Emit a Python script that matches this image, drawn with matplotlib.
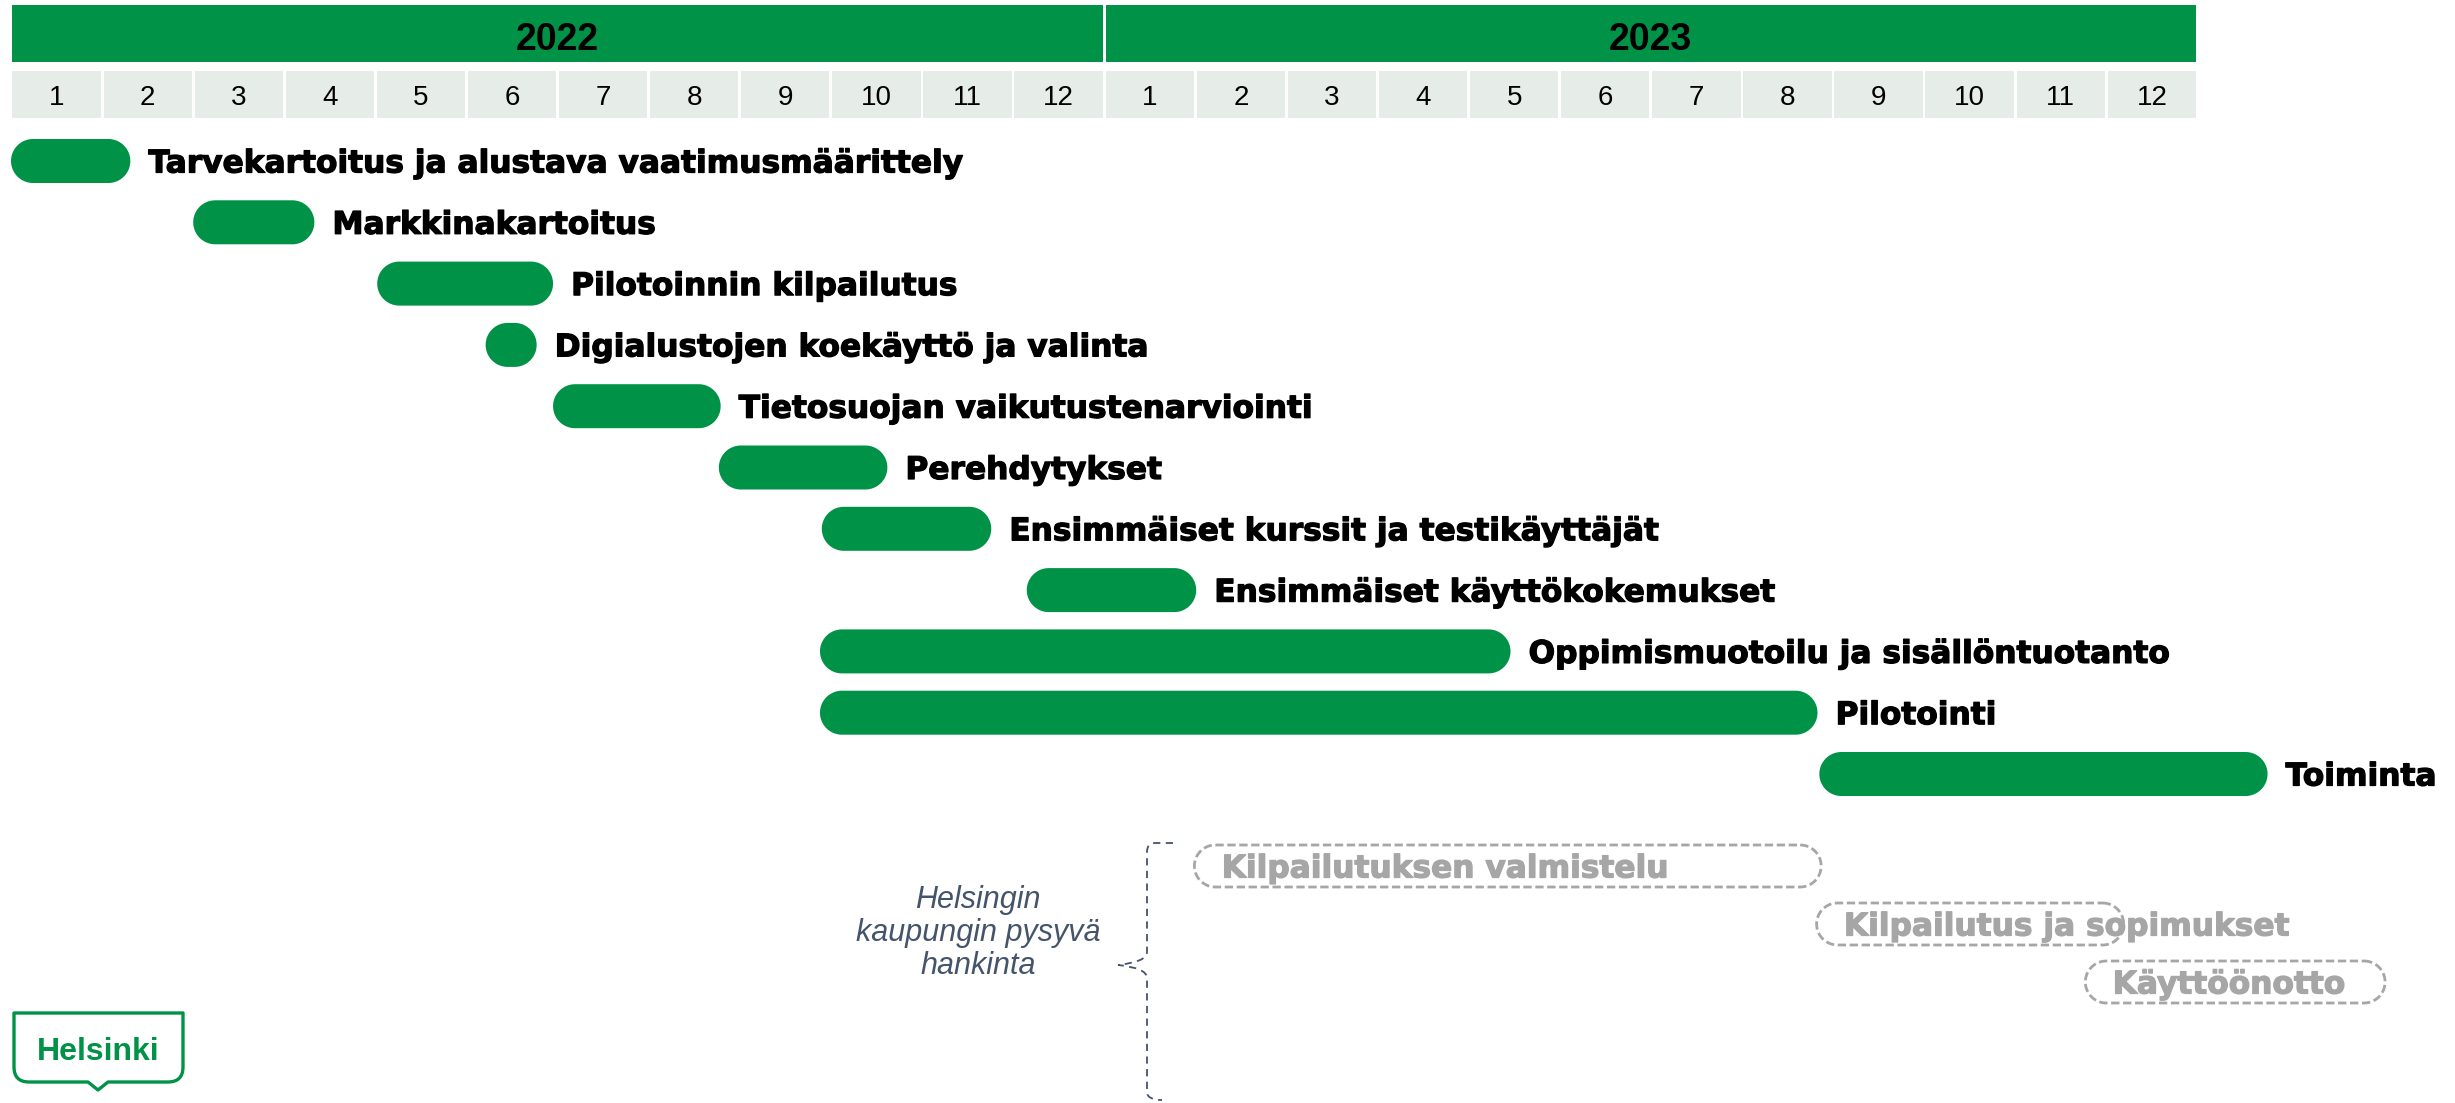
import numpy as np
import matplotlib
matplotlib.use("Agg")
import matplotlib.pyplot as plt
from matplotlib.patches import Rectangle, PathPatch
from matplotlib.path import Path
import matplotlib.patheffects as pe

# Aikajana: x-akselilla kuukaudet, 0 = tammikuun 2022 alku
years = ["2022", "2023"]
months = [str(m) for m in range(1, 13)] * 2

tasks = ["Tarvekartoitus ja alustava vaatimusmäärittely", "Markkinakartoitus",
         "Pilotoinnin kilpailutus", "Digialustojen koekäyttö ja valinta",
         "Tietosuojan vaikutustenarviointi", "Perehdytykset",
         "Ensimmäiset kurssit ja testikäyttäjät", "Ensimmäiset käyttökokemukset",
         "Oppimismuotoilu ja sisällöntuotanto", "Pilotointi", "Toiminta"]
task_start = [0.0, 2.0, 4.02, 5.21, 5.95, 7.77, 8.9, 11.15, 8.88, 8.88, 19.85]
task_end = [1.31, 3.33, 5.95, 5.77, 7.79, 9.62, 10.76, 13.01, 16.46, 19.83, 24.77]

proc = ["Kilpailutuksen valmistelu", "Kilpailutus ja sopimukset", "Käyttöönotto"]
proc_start = [12.99, 19.82, 22.77]
proc_end = [19.87, 23.19, 26.06]
proc_note = "Helsingin\nkaupungin pysyvä\nhankinta"

GREEN = "#009246"
CELL = "#e6ece8"
GREY = "#a6a6a6"
SLATE = "#44546a"

W, H = 2455, 1103
PPM = 91.1            # pikseliä / kuukausi
X0 = -11 / PPM


def pill(s, e, yc, h):
    """Pyöreäpäinen palkki: x kuukausina, y pikseleinä."""
    r = h / 2
    t = np.linspace(-np.pi / 2, np.pi / 2, 40)
    right = np.column_stack([e - r / PPM + r * np.cos(t) / PPM, yc + r * np.sin(t)])
    left = np.column_stack([s + r / PPM - r * np.cos(t) / PPM, yc - r * np.sin(t)])
    verts = np.vstack([right, left, right[:1]])
    codes = [Path.MOVETO] + [Path.LINETO] * (len(verts) - 2) + [Path.CLOSEPOLY]
    return Path(verts, codes)


fig = plt.figure(figsize=(W / 100, H / 100), dpi=100)
ax = fig.add_axes([0, 0, 1, 1])
ax.set_xlim(X0, X0 + W / PPM)
ax.set_ylim(H, 0)
ax.axis("off")

# Otsikkorivit: vuodet ja kuukaudet
g = 1.4 / PPM
for i, yr in enumerate(years):
    ax.add_patch(Rectangle((12 * i + g, 5), 12 - 2 * g, 57, color=GREEN, lw=0))
    ax.text(12 * i + 6, 36, yr, ha="center", va="center_baseline", fontsize=27,
            fontweight="bold", family="Liberation Sans")
for i, m in enumerate(months):
    ax.add_patch(Rectangle((i + g, 71), 1 - 2 * g, 47, color=CELL, lw=0))
    ax.text(i + 0.5, 95, m, ha="center", va="center_baseline", fontsize=20,
            family="Liberation Sans")

# Tehtäväpalkit
BAR_H = 44
for i, (name, s, e) in enumerate(zip(tasks, task_start, task_end)):
    y = 161 + 61.3 * i
    ax.add_patch(PathPatch(pill(s, e, y, BAR_H), fc=GREEN, ec="none"))
    ax.annotate(name, (e, y), xytext=(13, 0), textcoords="offset points",
                va="center_baseline", fontsize=22.5, fontweight="bold", family="DejaVu Sans",
                path_effects=[pe.withStroke(linewidth=0.9, foreground="black")])

# Hankintavaiheet katkoviivalla
for i, (name, s, e) in enumerate(zip(proc, proc_start, proc_end)):
    y = 866 + 58 * i
    ax.text(s + 0.3, y, name, va="center_baseline", fontsize=22.5, fontweight="bold",
            family="DejaVu Sans", color=GREY,
            path_effects=[pe.withStroke(linewidth=0.9, foreground=GREY)])
    ax.add_patch(PathPatch(pill(s, e, y, 42), fc="none", ec=GREY, lw=2.0,
                           ls=(0, (3, 1.3))))

# Koristeet pikselikoordinaateissa
deco = fig.add_axes([0, 0, 1, 1])
deco.set_xlim(0, W)
deco.set_ylim(H, 0)
deco.axis("off")

M, L, C = Path.MOVETO, Path.LINETO, Path.CURVE3
brace = Path([(1173, 843), (1155, 843), (1147, 843), (1147, 852), (1147, 952),
              (1147, 962), (1118, 965), (1147, 968), (1147, 978), (1147, 1092),
              (1147, 1100), (1162, 1100)],
             [M, L, C, C, L, C, C, C, C, L, C, C])
deco.add_patch(PathPatch(brace, fc="none", ec=SLATE, lw=1.3, ls=(0, (4, 3))))
deco.text(978, 933, proc_note, ha="center", va="center", style="italic", fontsize=22,
          color=SLATE, linespacing=1.12, family="Liberation Sans")

# Helsinki-logo
shield = Path([(14, 1013), (183, 1013), (183, 1067), (183, 1082), (168, 1082),
               (108, 1082), (98, 1090), (88, 1082), (29, 1082), (14, 1082),
               (14, 1067), (14, 1013)],
              [M, L, L, C, C, L, L, L, L, C, C, Path.CLOSEPOLY])
deco.add_patch(PathPatch(shield, fc="none", ec=GREEN, lw=2.4, joinstyle="round"))
deco.text(98, 1048, "Helsinki", ha="center", va="center_baseline", fontsize=23,
          fontweight="bold", color=GREEN, family="Liberation Sans")

fig.savefig("out.png", dpi=100, facecolor="white")
